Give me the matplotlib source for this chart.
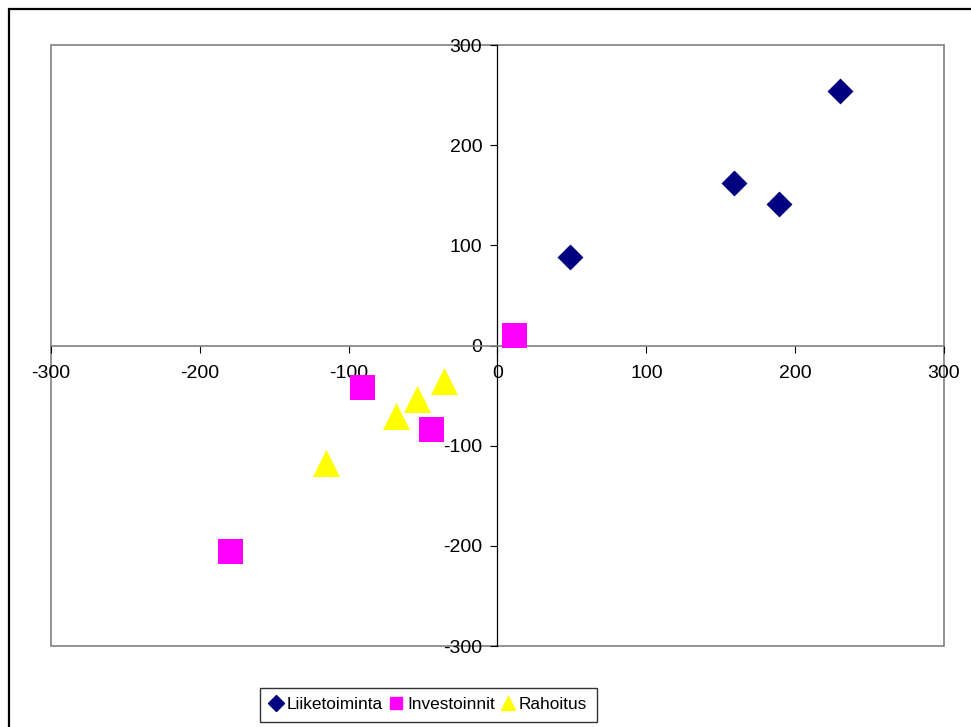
import matplotlib
matplotlib.use("Agg")
import matplotlib.pyplot as plt
from matplotlib.lines import Line2D
from matplotlib.patches import Rectangle

plt.rcParams["font.family"] = ["Liberation Sans", "DejaVu Sans"]
plt.rcParams["axes.unicode_minus"] = False

# values
liike_x = [49, 159, 189, 230]
liike_y = [88, 162, 141, 254]

invest_x = [11, -91, -45, -180]
invest_y = [10, -41, -83, -205]

rahoitus_x = [-36, -54, -68, -115]
rahoitus_y = [-35, -53, -70, -117]

series_labels = ["Liiketoiminta", "Investoinnit", "Rahoitus"]
tick_values = [-300, -200, -100, 0, 100, 200, 300]

navy = "#000080"
magenta = "#FF00FF"
yellow = "#FFFF00"
grey = "#808080"

fig = plt.figure(figsize=(9.71, 7.27), dpi=100)
ax = fig.add_axes([0.0525, 0.1114, 0.9197, 0.8267])

ax.scatter(liike_x, liike_y, marker="D", s=13.2 ** 2, color=navy,
           linewidths=0, zorder=5)
ax.scatter(invest_x, invest_y, marker="s", s=18 ** 2, color=magenta,
           linewidths=0, zorder=5)
ax.scatter(rahoitus_x, rahoitus_y, marker="^", s=19.5 ** 2, color=yellow,
           linewidths=0, zorder=5)

ax.set_xlim(-300, 300)
ax.set_ylim(-300, 300)
ax.set_xticks(tick_values)
ax.set_yticks(tick_values)

# axes cross at the origin, like the spreadsheet chart
ax.spines["left"].set_position(("data", 0))
ax.spines["bottom"].set_position(("data", 0))
ax.spines["left"].set_color("black")
ax.spines["left"].set_linewidth(0.9)
ax.spines["bottom"].set_color(grey)
ax.spines["bottom"].set_linewidth(1.2)
for side in ["top", "right"]:
    ax.spines[side].set_visible(False)

# grey plot-area border
ax.add_patch(Rectangle((0, 0), 1, 1, transform=ax.transAxes, fill=False,
                       edgecolor=grey, linewidth=1.2, zorder=1,
                       clip_on=False))

ax.tick_params(axis="both", direction="out", length=5, width=0.8,
               colors="black", labelsize=14)
ax.tick_params(axis="x", pad=9)
ax.tick_params(axis="y", pad=6)

# outer chart frame
fig.patches.append(Rectangle((0.0093, -0.2), 2, 1.1876,
                             transform=fig.transFigure, fill=False,
                             edgecolor="black", linewidth=1.6))

handles = [
    Line2D([], [], marker="D", linestyle="none", color=navy, markersize=8),
    Line2D([], [], marker="s", linestyle="none", color=magenta, markersize=8.5),
    Line2D([], [], marker="^", linestyle="none", color=yellow, markersize=10),
]
leg = fig.legend(handles, series_labels, loc="center",
                 bbox_to_anchor=(0.4413, 0.0303), ncol=3, fontsize=12.4,
                 frameon=True, fancybox=False, borderpad=0.55,
                 handlelength=0.75, handletextpad=0.25,
                 columnspacing=0.4, borderaxespad=0)
leg.get_frame().set_edgecolor("black")
leg.get_frame().set_linewidth(1.0)

fig.savefig("out.png", dpi=100)
